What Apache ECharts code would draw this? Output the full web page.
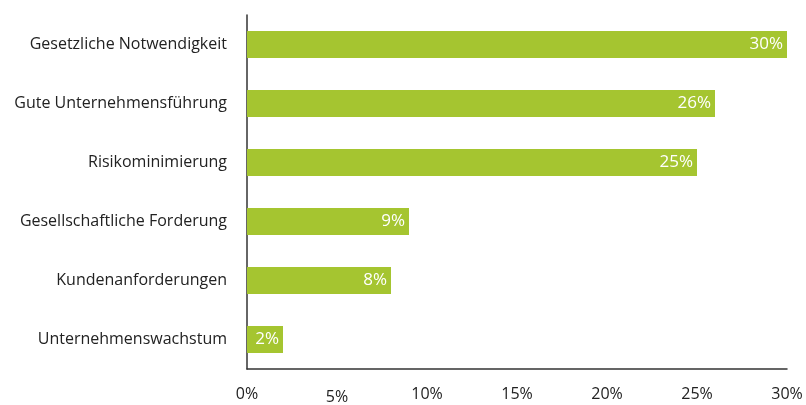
<!DOCTYPE html>
<html><head><meta charset="utf-8">
<script src="https://cdn.jsdelivr.net/npm/echarts@6/dist/echarts.min.js"></script>
<style>html,body{margin:0;padding:0;background:#fff}#c{width:806px;height:405px}</style>
</head><body><div id="c"></div>
<script>
const categories = ["Gesetzliche Notwendigkeit","Gute Unternehmensführung","Risikominimierung","Gesellschaftliche Forderung","Kundenanforderungen","Unternehmenswachstum"];
const values = [30, 26, 25, 9, 8, 2];
const tickValues = [0, 5, 10, 15, 20, 25, 30];

const chart = echarts.init(document.getElementById('c'));
chart.setOption({
  animation: false,
  textStyle: { fontFamily: "Open Sans" },
  grid: { left: 247, right: 19, top: 15, bottom: 34, containLabel: false },
  xAxis: {
    type: 'value', min: 0, max: 30, interval: 5,
    axisLine: { show: true, lineStyle: { color: '#333', width: 1.5 } },
    axisTick: { show: false },
    splitLine: { show: false },
    axisLabel: {
      color: '#222', fontSize: 16, margin: 17,
      formatter: v => v === 5 ? '{d|' + v + '%}' : v + '%',
      rich: { d: { fontSize: 16, color: '#222', padding: [3, 0, 0, 0] } }
    }
  },
  yAxis: {
    type: 'category', data: categories, inverse: true,
    axisLine: { show: true, lineStyle: { color: '#333', width: 1.5 } },
    axisTick: { show: false },
    axisLabel: { color: '#222', fontSize: 16, margin: 20 }
  },
  series: [{
    type: 'bar', data: values, barCategoryGap: '54%',
    itemStyle: { color: '#a5c530' },
    label: { show: true, position: 'insideRight', distance: 4, color: '#fff', fontSize: 17, formatter: p => p.value + '%' }
  }]
});
</script></body></html>
